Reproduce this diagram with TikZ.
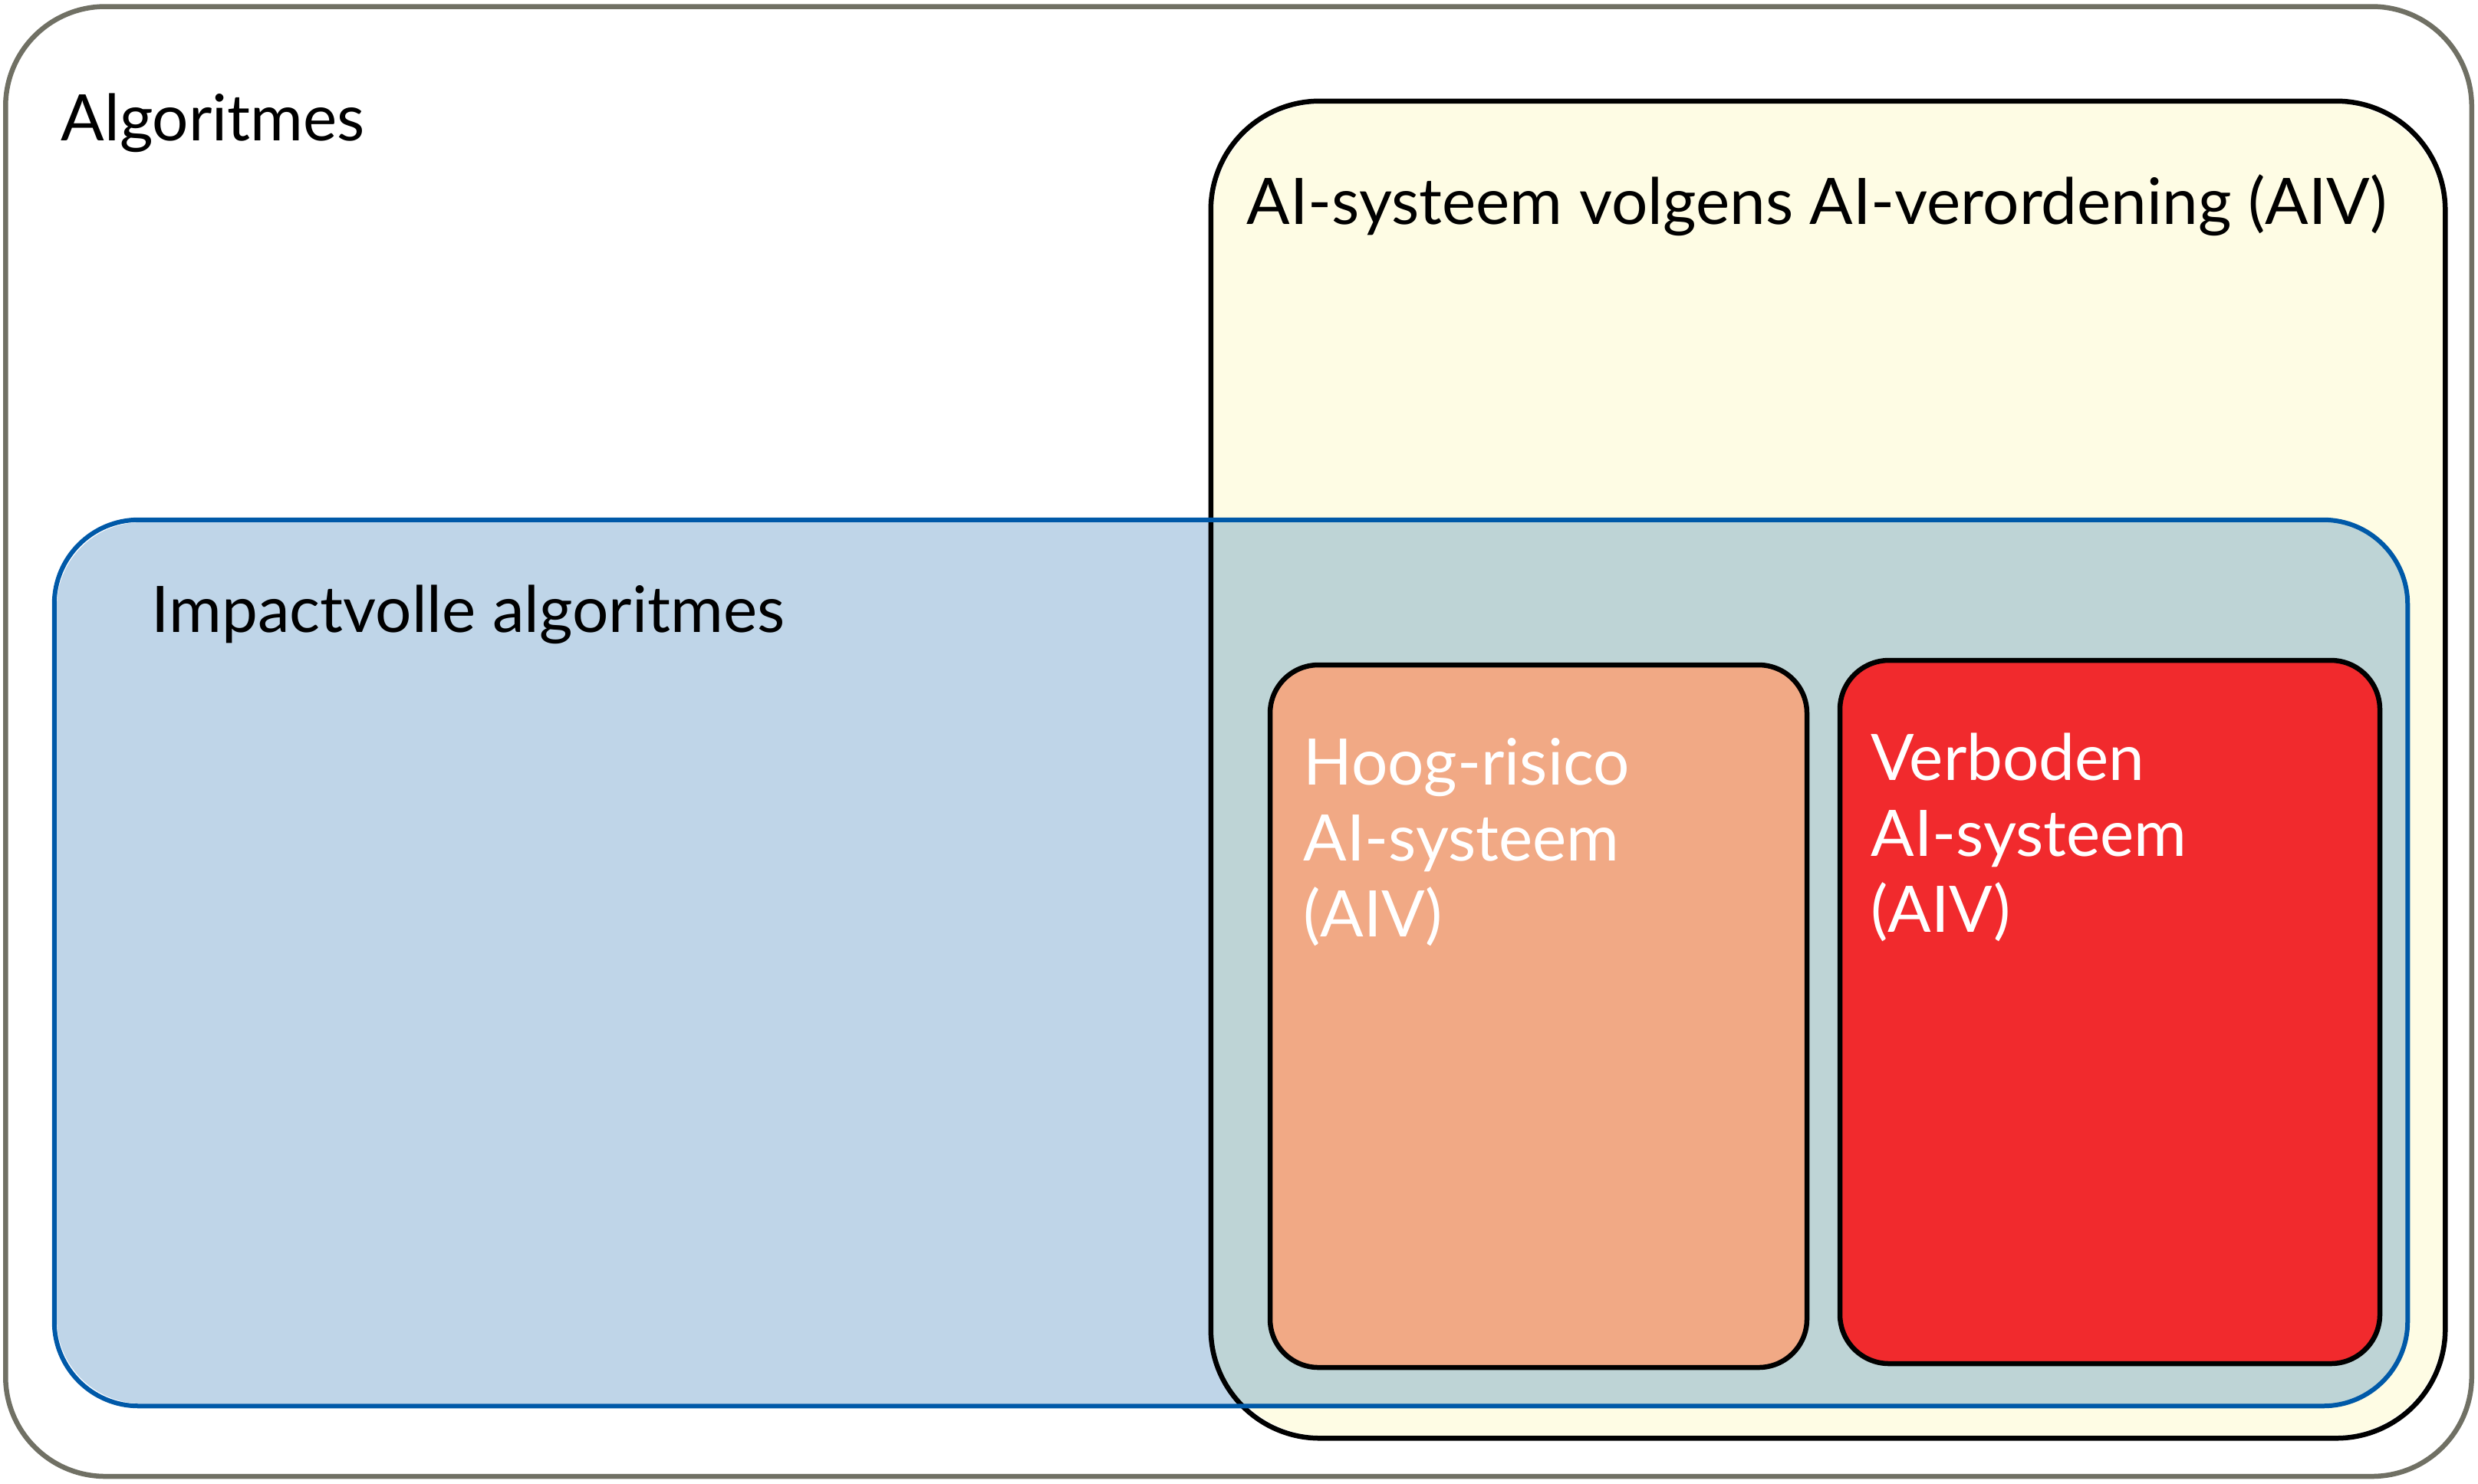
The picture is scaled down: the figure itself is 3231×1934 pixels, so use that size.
\documentclass[tikz,border=0pt]{standalone}
\usepackage{fontspec}
\setmainfont{Lato}
\usepackage{xcolor}
\usepackage{tikz}
\usetikzlibrary{
    positioning,
    calc
}
\definecolor{outerline}{RGB}{112,112,100}
\definecolor{aivfill}{RGB}{254,252,228}
\definecolor{impactfill}{RGB}{191,213,232}
\definecolor{impactline}{RGB}{0,89,168}
\definecolor{overlapfill}{RGB}{190,212,214}
\definecolor{highfill}{RGB}{241,169,133}
\definecolor{forbidfill}{RGB}{241,42,45}
\tikzset{
    setbox/.style={
        inner sep=0pt,
        line width=0.65mm
    }
}
\tikzset{
    setlabel/.style={
        anchor=base west,
        inner sep=0pt,
        align=left,
        font=\fontsize{23.8}{28.2}\selectfont
    }
}

\begin{document}
\begin{tikzpicture}[
    x=0.1mm,
    y=-0.1mm
]
\useasboundingbox (0,0) rectangle (3231,1934);

% ------------------------------------------------------------
% Sets
% ------------------------------------------------------------

\node[setbox, draw=outerline, fill=white, rounded corners=13mm,
    minimum width=321.55mm, minimum height=191.65mm] (alg) at (1615,966.75) {};
\node[setbox, fill=aivfill, rounded corners=14.2mm,
    minimum width=160.3mm, minimum height=173.7mm] (aiv) at (2383.5,1003.5) {};
\node[setbox, fill=impactfill, rounded corners=11mm,
    minimum width=306.2mm, minimum height=114.9mm] (impact) at (1605,1255.5) {};

% overlap of AIV and impactvolle algoritmes
\begin{scope}
    \clip[rounded corners=14.2mm] (aiv.south west) rectangle (aiv.north east);
    \fill[overlapfill, rounded corners=11mm] (impact.south west) rectangle (impact.north east);
\end{scope}
\draw[line width=0.65mm, rounded corners=14.2mm] (aiv.south west) rectangle (aiv.north east);
\draw[impactline, line width=0.6mm, rounded corners=11mm] (impact.south west) rectangle (impact.north east);

\node[setbox, draw=black, fill=highfill, rounded corners=6.3mm,
    minimum width=70mm, minimum height=91.6mm] (high) at (2006,1325) {};
\node[setbox, draw=black, fill=forbidfill, rounded corners=6.4mm,
    minimum width=70.4mm, minimum height=91.7mm] (forbid) at (2751,1319.5) {};

% ------------------------------------------------------------
% Labels
% ------------------------------------------------------------

\node[setlabel] (algtext) at ($(alg.north west)+(75,178)$) {Algoritmes};
\node[setlabel] (aivtext) at ($(aiv.north west)+(46,161)$)
    {AI-systeem volgens AI-verordening (AIV)};
\node[setlabel] (impacttext) at ($(impact.north west)+(126,147)$)
    {Impactvolle algoritmes};
% base of a multi-line label is its last line
\node[setlabel, text=white] (hightext) at ($(high.north west)+(46,358)$)
    {Hoog-risico\\AI-systeem\\(AIV)};
\node[setlabel, text=white] (forbidtext) at ($(forbid.north west)+(43,358)$)
    {Verboden\\AI-systeem\\(AIV)};

\end{tikzpicture}
\end{document}
